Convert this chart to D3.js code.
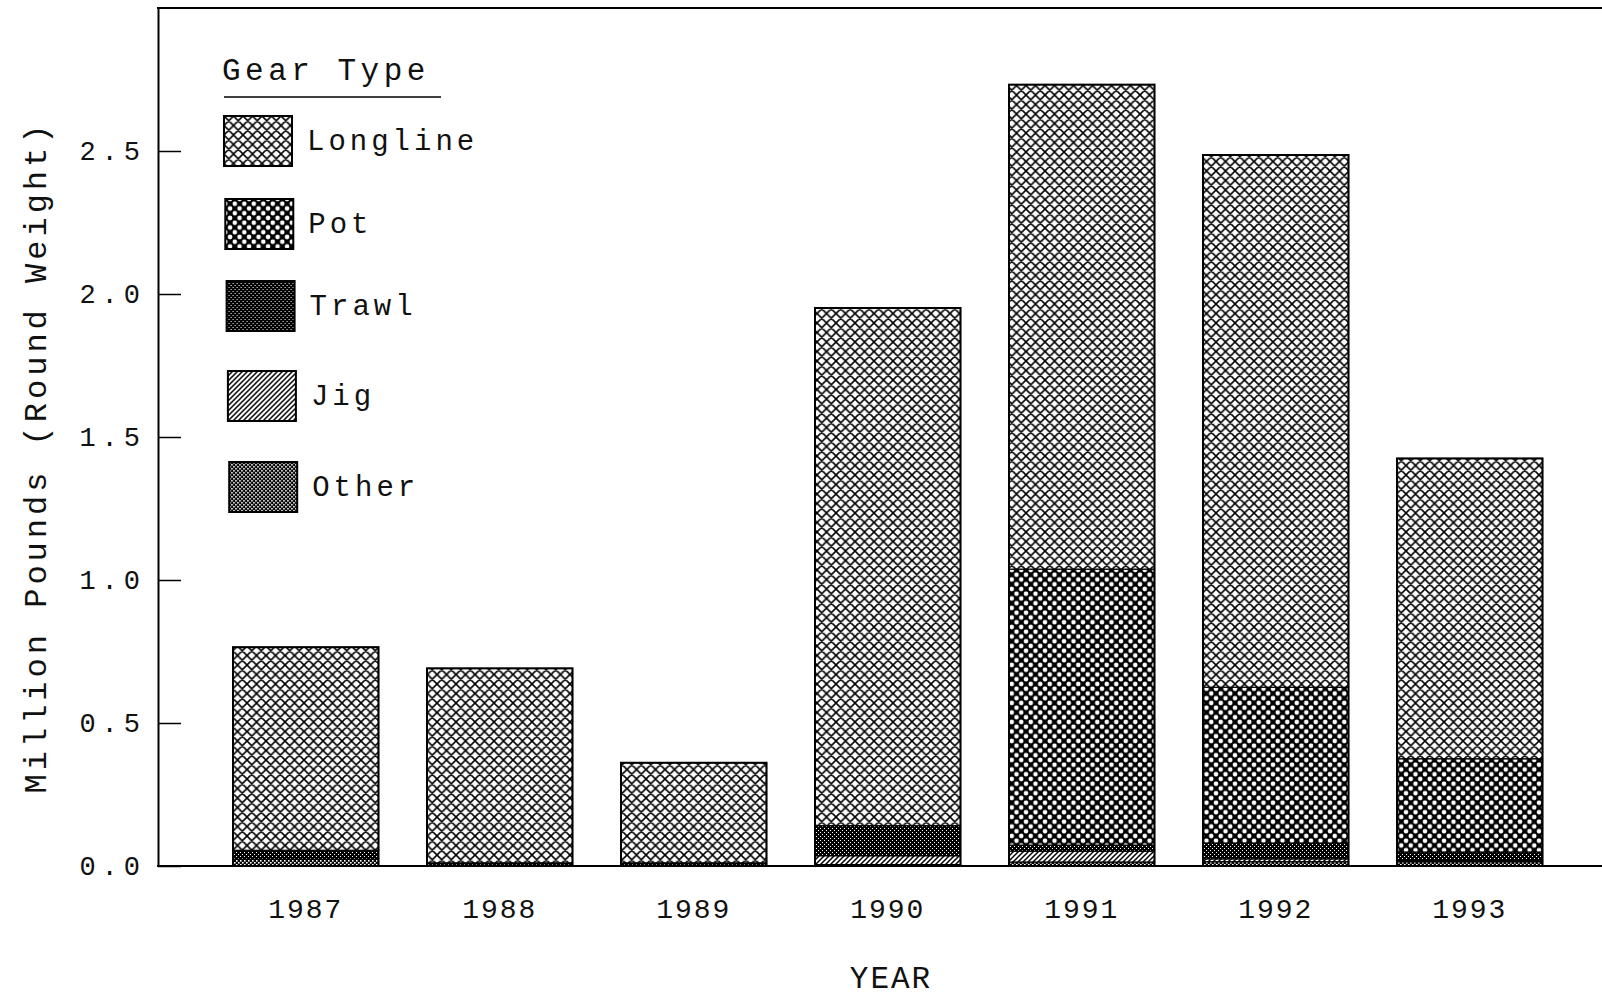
<!DOCTYPE html>
<html>
<head>
<meta charset="utf-8">
<script src="https://cdn.jsdelivr.net/npm/d3@7"></script>
<style>
  body { margin: 0; background: #fff; }
  text { font-family: 'Liberation Mono', 'DejaVu Sans Mono', monospace; fill: #111; }
</style>
</head>
<body>
<script>
'use strict';

// values, million pounds round weight
var years = ['1987', '1988', '1989', '1990', '1991', '1992', '1993'];
var longline = [0.71, 0.68, 0.35, 1.81, 1.694, 1.861, 1.05];
var pot = [0, 0, 0, 0, 0.965, 0.545, 0.326];
var trawl = [0.031, 0.008, 0.008, 0.105, 0.021, 0.055, 0.03];
var jig = [0, 0, 0, 0.031, 0.038, 0.01, 0.004];
var other = [0.024, 0.003, 0.003, 0.005, 0.014, 0.015, 0.015];
var gearTypes = ['Longline', 'Pot', 'Trawl', 'Jig', 'Other'];
var yTicks = [0, 0.5, 1.0, 1.5, 2.0, 2.5];

var width = 1602,
    height = 998;

var svg = d3.select('body')
    .append('svg')
    .attr('width', width)
    .attr('height', height);

// fill patterns that imitate the plotter hatching
var defs = svg.append('defs');

function lattice(id, size, sw) {
    var p = defs.append('pattern')
        .attr('id', id)
        .attr('patternUnits', 'userSpaceOnUse')
        .attr('width', size)
        .attr('height', size);
    p.append('rect').attr('width', size).attr('height', size).attr('fill', '#fff');
    var d = '';
    [-1, 0, 1].forEach(function(k) {
        var o = k * size;
        d += 'M' + o + ',0L' + (o + size) + ',' + size;
        d += 'M' + (o + size) + ',0L' + o + ',' + size;
    });
    p.append('path').attr('d', d).attr('stroke', '#000').attr('stroke-width', sw);
}
lattice('pat-longline', 9.5, 1.6);

var potPat = defs.append('pattern')
    .attr('id', 'pat-pot')
    .attr('patternUnits', 'userSpaceOnUse')
    .attr('width', 9.5)
    .attr('height', 9.5);
potPat.append('rect').attr('width', 9.5).attr('height', 9.5).attr('fill', '#000');
[[4.75, 0], [0, 4.75], [9.5, 4.75], [4.75, 9.5]].forEach(function(c) {
    potPat.append('circle').attr('cx', c[0]).attr('cy', c[1]).attr('r', 2.3).attr('fill', '#fff');
});

function dots(id, size, dot) {
    var p = defs.append('pattern')
        .attr('id', id)
        .attr('patternUnits', 'userSpaceOnUse')
        .attr('width', size)
        .attr('height', size);
    p.append('rect').attr('width', size).attr('height', size).attr('fill', '#000');
    p.append('rect').attr('x', 0).attr('y', 0).attr('width', dot).attr('height', dot).attr('fill', '#fff');
    p.append('rect').attr('x', size / 2).attr('y', size / 2).attr('width', dot).attr('height', dot).attr('fill', '#fff');
}
dots('pat-trawl', 4, 1.0);
dots('pat-other', 4, 1.6);

var jigPat = defs.append('pattern')
    .attr('id', 'pat-jig')
    .attr('patternUnits', 'userSpaceOnUse')
    .attr('width', 5)
    .attr('height', 5);
jigPat.append('rect').attr('width', 5).attr('height', 5).attr('fill', '#fff');
jigPat.append('path')
    .attr('d', 'M0,5L5,0M-1,1L1,-1M4,6L6,4')
    .attr('stroke', '#000')
    .attr('stroke-width', 1.5);

var fills = {
    Longline: 'url(#pat-longline)',
    Pot: 'url(#pat-pot)',
    Trawl: 'url(#pat-trawl)',
    Jig: 'url(#pat-jig)',
    Other: 'url(#pat-other)'
};

// scales
var x = d3.scaleBand()
    .domain(years)
    .range([208.75, 1566.75])
    .paddingInner(0.25)
    .paddingOuter(0.125);

var y = d3.scaleLinear()
    .domain([0, 3.0])
    .range([866, 8]);

var rows = years.map(function(yr, i) {
    return { year: yr, Longline: longline[i], Pot: pot[i], Trawl: trawl[i], Jig: jig[i], Other: other[i] };
});

var stack = d3.stack().keys(['Other', 'Jig', 'Trawl', 'Pot', 'Longline']);
var series = stack(rows);

// bars
var layer = svg.selectAll('g.layer')
    .data(series)
    .enter()
    .append('g')
    .attr('class', 'layer')
    .attr('fill', function(d) { return fills[d.key]; });

layer.selectAll('rect')
    .data(function(d) { return d; })
    .enter()
    .append('rect')
    .attr('x', function(d) { return x(d.data.year); })
    .attr('y', function(d) { return y(d[1]); })
    .attr('width', x.bandwidth())
    .attr('height', function(d) { return Math.max(0, y(d[0]) - y(d[1])); })
    .attr('stroke', '#000')
    .attr('stroke-width', function(d) { return (d[1] - d[0]) > 0 ? 1.2 : 0; });

// outline of each whole bar
svg.append('g')
    .selectAll('rect')
    .data(rows)
    .enter()
    .append('rect')
    .attr('x', function(d) { return x(d.year); })
    .attr('y', function(d) { return y(d.Longline + d.Pot + d.Trawl + d.Jig + d.Other); })
    .attr('width', x.bandwidth())
    .attr('height', function(d) { return y(0) - y(d.Longline + d.Pot + d.Trawl + d.Jig + d.Other); })
    .attr('fill', 'none')
    .attr('stroke', '#000')
    .attr('stroke-width', 2);

// frame: top and bottom lines
svg.append('line')
    .attr('x1', 157).attr('x2', width)
    .attr('y1', y(3.0)).attr('y2', y(3.0))
    .attr('stroke', '#000').attr('stroke-width', 2);
svg.append('line')
    .attr('x1', 157).attr('x2', width)
    .attr('y1', y(0)).attr('y2', y(0))
    .attr('stroke', '#000').attr('stroke-width', 2);

// y axis with inward ticks
var yAxis = svg.append('g')
    .attr('transform', 'translate(158,0)')
    .call(d3.axisLeft(y)
        .tickValues(yTicks)
        .tickFormat(d3.format('.1f'))
        .tickSizeInner(-23)
        .tickSizeOuter(0)
        .tickPadding(12));
yAxis.select('.domain').attr('stroke-width', 2);
yAxis.selectAll('.tick line').attr('stroke-width', 1.5);
yAxis.selectAll('.tick text')
    .attr('font-size', 27)
    .attr('letter-spacing', 6)
    .attr('font-family', null);

// x axis labels
var xAxis = svg.append('g')
    .attr('transform', 'translate(0,' + y(0) + ')')
    .call(d3.axisBottom(x).tickSize(0).tickPadding(32));
xAxis.select('.domain').remove();
xAxis.selectAll('.tick text')
    .attr('font-size', 28)
    .attr('letter-spacing', 2)
    .attr('font-family', null);

// axis titles
svg.append('text')
    .attr('transform', 'translate(46,457) rotate(-90)')
    .attr('text-anchor', 'middle')
    .attr('font-size', 32)
    .attr('letter-spacing', 4)
    .text('Million Pounds (Round Weight)');

svg.append('text')
    .attr('x', 891)
    .attr('y', 988)
    .attr('text-anchor', 'middle')
    .attr('font-size', 31)
    .attr('letter-spacing', 2)
    .text('YEAR');

// legend
var legend = svg.append('g');
legend.append('text')
    .attr('x', 222)
    .attr('y', 80)
    .attr('font-size', 31)
    .attr('letter-spacing', 4.5)
    .text('Gear Type');
legend.append('line')
    .attr('x1', 224).attr('x2', 441)
    .attr('y1', 97).attr('y2', 97)
    .attr('stroke', '#000').attr('stroke-width', 1.5);

var rowY = [116, 199, 281, 371, 462];
var item = legend.selectAll('g.item')
    .data(gearTypes)
    .enter()
    .append('g')
    .attr('class', 'item')
    .attr('transform', function(d, i) { return 'translate(' + (224 + i * 1.3) + ',' + rowY[i] + ')'; });

item.append('rect')
    .attr('width', 68)
    .attr('height', 50)
    .attr('fill', function(d) { return fills[d]; })
    .attr('stroke', '#000')
    .attr('stroke-width', 2);

item.append('text')
    .attr('x', 83)
    .attr('y', 34)
    .attr('font-size', 29)
    .attr('letter-spacing', 4)
    .text(function(d) { return d; });
</script>
</body>
</html>
